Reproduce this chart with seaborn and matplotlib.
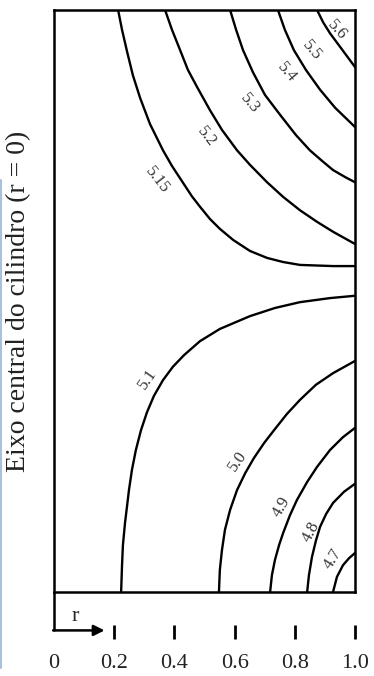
# Isolinhas num cilindro - recriacao com seaborn

import numpy as np
import pandas as pd
import matplotlib
matplotlib.use("Agg")
import matplotlib.pyplot as plt
import seaborn as sns
from matplotlib.lines import Line2D

# ==============================
# Dados (r, z normalizados 0..1)
# ==============================
levels = ["5.15", "5.2", "5.3", "5.4", "5.5", "5.1", "5.0", "4.9", "4.8", "4.7"]

r_515 = [0.213, 0.226, 0.243, 0.262, 0.286, 0.319, 0.362, 0.392, 0.425, 0.458,
         0.485, 0.518, 0.551, 0.595, 0.651, 0.708, 0.761, 0.817, 0.927, 1.0]
z_515 = [1.0, 0.966, 0.928, 0.888, 0.849, 0.804, 0.759, 0.732, 0.706, 0.680,
         0.662, 0.641, 0.624, 0.605, 0.586, 0.574, 0.567, 0.562, 0.560, 0.560]

r_52 = [0.369, 0.392, 0.419, 0.445, 0.475, 0.518, 0.558, 0.608, 0.651, 0.708,
        0.761, 0.817, 0.874, 0.927, 1.0]
z_52 = [1.0, 0.966, 0.931, 0.897, 0.868, 0.828, 0.794, 0.759, 0.734, 0.704,
        0.679, 0.656, 0.636, 0.619, 0.598]

r_53 = [0.585, 0.605, 0.628, 0.661, 0.701, 0.751, 0.804, 0.850, 0.890, 0.927, 0.967, 1.0]
z_53 = [1.0, 0.966, 0.931, 0.893, 0.854, 0.820, 0.785, 0.759, 0.741, 0.725, 0.713, 0.704]

r_54 = [0.744, 0.767, 0.797, 0.837, 0.884, 0.934, 1.0]
z_54 = [1.0, 0.966, 0.931, 0.897, 0.863, 0.832, 0.799]

r_55 = [0.874, 0.894, 0.917, 0.960, 1.0]
z_55 = [1.0, 0.979, 0.960, 0.930, 0.902]

r_51 = [0.223, 0.226, 0.229, 0.236, 0.243, 0.249, 0.259, 0.272, 0.289, 0.309, 0.332,
        0.362, 0.395, 0.432, 0.485, 0.551, 0.651, 0.734, 0.817, 0.917, 1.0]
z_51 = [0.0, 0.046, 0.081, 0.119, 0.149, 0.175, 0.210, 0.244, 0.278, 0.309, 0.337,
        0.364, 0.387, 0.407, 0.431, 0.452, 0.474, 0.488, 0.498, 0.505, 0.509]

r_50 = [0.548, 0.551, 0.558, 0.568, 0.585, 0.608, 0.635, 0.664, 0.698, 0.734,
        0.774, 0.817, 0.870, 0.927, 1.0]
z_50 = [0.0, 0.038, 0.072, 0.107, 0.141, 0.175, 0.204, 0.230, 0.256, 0.280,
        0.306, 0.330, 0.356, 0.376, 0.397]

r_49 = [0.718, 0.724, 0.734, 0.748, 0.761, 0.784, 0.807, 0.841, 0.874, 0.917, 0.960, 1.0]
z_49 = [0.0, 0.029, 0.055, 0.081, 0.101, 0.132, 0.158, 0.189, 0.215, 0.244, 0.266, 0.282]

r_48 = [0.841, 0.847, 0.857, 0.870, 0.884, 0.904, 0.927, 0.963, 1.0]
z_48 = [0.0, 0.029, 0.060, 0.088, 0.112, 0.134, 0.153, 0.172, 0.186]

r_47 = [0.927, 0.934, 0.940, 0.960, 0.980, 1.0]
z_47 = [0.0, 0.014, 0.026, 0.046, 0.058, 0.067]

# rotulos das isolinhas
label_text = ["5.15", "5.2", "5.3", "5.4", "5.5", "5.6", "5.1", "5.0", "4.9", "4.8", "4.7"]
label_r = [0.342, 0.508, 0.651, 0.774, 0.857, 0.940, 0.312, 0.611, 0.757, 0.854, 0.927]
label_z = [0.708, 0.782, 0.840, 0.893, 0.931, 0.966, 0.366, 0.225, 0.146, 0.103, 0.057]
label_rot = [-52, -52, -50, -50, -50, -48, 55, 55, 60, 62, 58]

tick_pos = [0, 0.2, 0.4, 0.6, 0.8, 1.0]
tick_labels = ["0", "0.2", "0.4", "0.6", "0.8", "1.0"]


def main():

    sns.set_theme(style="white")
    plt.rcParams["font.family"] = ["Liberation Serif", "DejaVu Serif"]

    # ==============================
    # Tabela longa
    # ==============================
    curves = [(r_515, z_515), (r_52, z_52), (r_53, z_53), (r_54, z_54),
              (r_55, z_55), (r_51, z_51), (r_50, z_50), (r_49, z_49),
              (r_48, z_48), (r_47, z_47)]
    rows = []
    for lev, (rr, zz) in zip(levels, curves):
        for i, (a, b) in enumerate(zip(rr, zz)):
            rows.append({"level": lev, "r": a, "z": b, "order": i})
    df = pd.DataFrame(rows)

    fig = plt.figure(figsize=(3.74, 6.76), dpi=100)
    ax = fig.add_axes([54 / 374, 84 / 676, 301 / 374, 582 / 676])

    sns.lineplot(data=df, x="r", y="z", units="level", estimator=None,
                 sort=False, color="black", linewidth=1.7, ax=ax)

    ax.set_xlim(0, 1)
    ax.set_ylim(0, 1)
    ax.set_xticks([])
    ax.set_yticks([])
    ax.set_xlabel("")
    ax.set_ylabel("Eixo central do cilindro (r = 0)", fontsize=20, color="#222222")
    ax.yaxis.set_label_coords(-0.076, 0.5)
    for sp in ax.spines.values():
        sp.set_color("black")
        sp.set_linewidth(1.8)

    for txt, a, b, rot in zip(label_text, label_r, label_z, label_rot):
        ax.text(a, b, txt, rotation=rot, ha="center", va="center",
                fontsize=12, color="#333333", rotation_mode="anchor")

    # ==============================
    # Eixo r destacado
    # ==============================
    sec = ax.secondary_xaxis(-0.0687)
    sec.set_xticks(tick_pos)
    sec.set_xticklabels(tick_labels)
    sec.spines["bottom"].set_visible(False)
    sec.tick_params(axis="x", direction="inout", length=10, width=2,
                    color="black", labelsize=16, pad=11, labelcolor="#222222")
    sec.xaxis.get_major_ticks()[0].tick1line.set_visible(False)

    ax.plot([0, 0], [0, -0.066], color="black", lw=1.8, clip_on=False)
    ax.annotate("", xy=(0.168, -0.066), xytext=(-0.003, -0.066),
                xycoords="data", annotation_clip=False,
                arrowprops=dict(arrowstyle="-|>", color="black", lw=1.8,
                                mutation_scale=16, shrinkA=0, shrinkB=0))
    ax.text(0.07, -0.042, "r", fontsize=16, ha="center", va="center",
            color="#222222")

    # borda azul da captura
    fig.add_artist(Line2D([0.003, 0.003], [1 - 180 / 676, 1 - 668 / 676],
                          transform=fig.transFigure, color="#a9c1dc", lw=1.5))

    fig.savefig("out.png", dpi=100)


if __name__ == "__main__":
    main()
